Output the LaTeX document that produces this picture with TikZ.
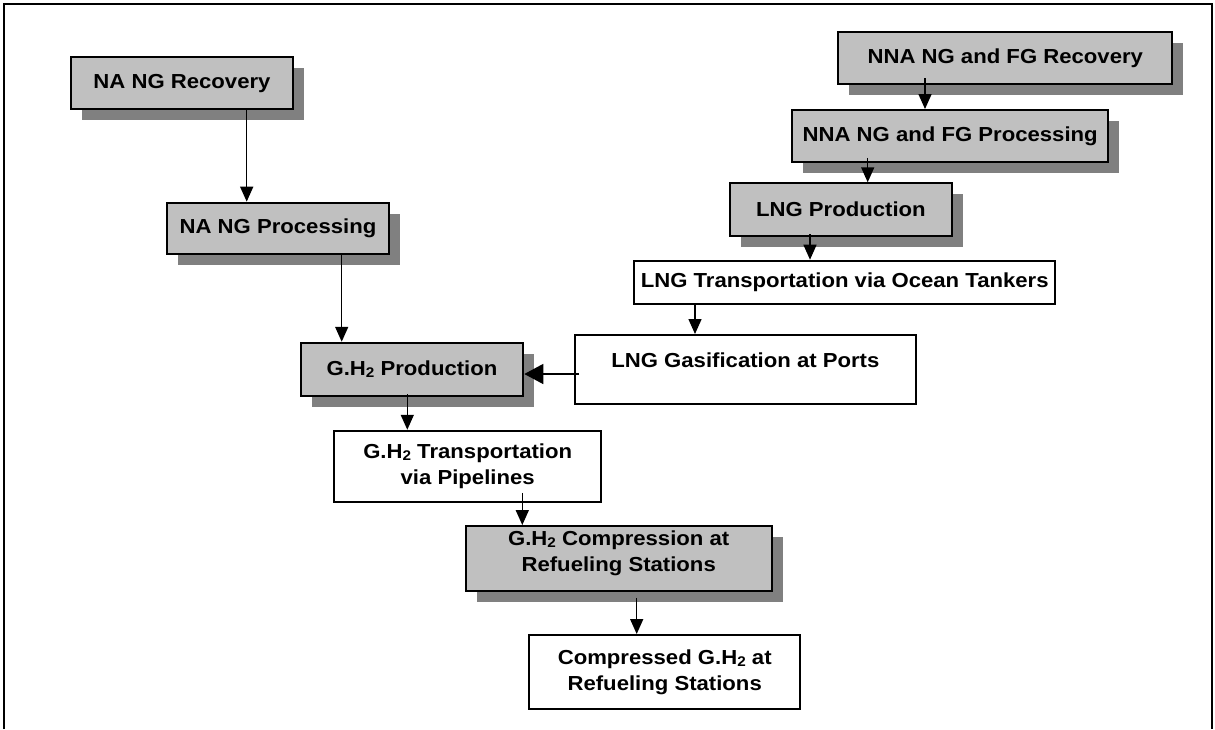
\documentclass[tikz,border=0pt]{standalone}
\usepackage{fontspec}
\setmainfont{Liberation Sans}[FakeStretch=1.09]
\usetikzlibrary{arrows.meta,shadows}
\definecolor{boxgray}{HTML}{C0C0C0}
\definecolor{shadowgray}{HTML}{808080}
\newcommand\hsub[1]{\raisebox{-2pt}{\fontsize{14}{14}\selectfont #1}}
\tikzset{
  base/.style={draw=black, line width=2pt, inner sep=0pt, align=center,
    font=\fontsize{20.3}{26}\selectfont\bfseries},
  graybox/.style={base, fill=boxgray,
    drop shadow={shadow xshift=11pt, shadow yshift=-11pt, fill=shadowgray, opacity=1}},
  whitebox/.style={base, fill=white},
  lbl/.style={inner sep=0pt, align=center, font=\fontsize{20.3}{26}\selectfont\bfseries},
  arr/.style={line width=1.5pt, -{Triangle[width=13pt,length=15pt]}},
  bigarr/.style={line width=1.5pt, -{Triangle[width=20pt,length=19pt]}},
}
\begin{document}
\begin{tikzpicture}[x=1pt,y=-1pt]
\useasboundingbox (0,0) rectangle (1215,729);
\fill[white] (0,0) rectangle (1215,729);
\draw[line width=2pt] (4,729) -- (4,3.5) -- (1211.5,3.5) -- (1211.5,729);

\node[graybox, minimum width=222.6pt, minimum height=52pt] (narec) at (182,83.3) {NA NG Recovery};
\node[graybox, minimum width=222.6pt, minimum height=51.3pt] (naproc) at (278,228.3) {NA NG Processing};
\node[graybox, minimum width=334pt, minimum height=51.7pt] (nnarec) at (1005.3,58.2) {NNA NG and FG Recovery};
\node[graybox, minimum width=316.3pt, minimum height=51.7pt] (nnaproc) at (950.2,135.9) {NNA NG and FG Processing};
\node[graybox, minimum width=221.7pt, minimum height=52.4pt] (lngprod) at (840.9,209.5) {LNG Production};
\node[whitebox, minimum width=420.7pt, minimum height=42.8pt] (lngtrans) at (844.7,282.1) {LNG Transportation via Ocean Tankers};
\node[whitebox, minimum width=340.7pt, minimum height=69pt] (gasif) at (745.4,369.5) {};
\node[lbl] (gasiftxt) at (745.4,360) {LNG Gasification at Ports};
\node[graybox, minimum width=222.6pt, minimum height=53.3pt] (gh2prod) at (412,369.4) {G.H\hsub{2} Production};
\node[whitebox, minimum width=266.7pt, minimum height=71.3pt] (gh2trans) at (467.7,466.4) {G.H\hsub{2} Transportation\\via Pipelines};
\node[graybox, minimum width=306pt, minimum height=64.7pt] (gh2comp) at (618.7,558.4) {};
\node[lbl] (gh2comptxt) at (618.7,553.7) {G.H\hsub{2} Compression at\\Refueling Stations};
\node[whitebox, minimum width=270.7pt, minimum height=74pt] (comp) at (664.7,672) {Compressed G.H\hsub{2} at\\Refueling Stations};

\draw[arr] ([xshift=64.7pt]narec.south) -- ([xshift=64.7pt]narec.south |- naproc.north);
\draw[arr] ([xshift=63.7pt]naproc.south) -- ([xshift=63.7pt]naproc.south |- gh2prod.north);
\draw[arr] ([xshift=-80.3pt,yshift=7pt]nnarec.south) -- ([xshift=-80.3pt]nnarec.south |- nnaproc.north);
\draw[arr] ([xshift=-82.5pt,yshift=5pt]nnaproc.south) -- ([xshift=-82.5pt]nnaproc.south |- lngprod.north);
\draw[arr] ([xshift=-30.9pt,yshift=2.4pt]lngprod.south) -- ([xshift=-30.9pt]lngprod.south |- lngtrans.north);
\draw[arr] ([xshift=-149.7pt]lngtrans.south) -- ([xshift=-149.7pt]lngtrans.south |- gasif.north);
\draw[bigarr] ([xshift=5pt,yshift=-4.5pt]gasif.west) -- ([yshift=-4.5pt]gasif.west -| gh2prod.east);
\draw[arr] ([xshift=-4.7pt,yshift=2.7pt]gh2prod.south) -- ([xshift=-4.7pt]gh2prod.south |- gh2trans.north);
\draw[arr] ([xshift=54.6pt,yshift=10.3pt]gh2trans.south) -- ([xshift=54.6pt]gh2trans.south |- gh2comp.north);
\draw[arr] ([xshift=18pt,yshift=-6pt]gh2comp.south) -- ([xshift=18pt]gh2comp.south |- comp.north);
\end{tikzpicture}
\end{document}
